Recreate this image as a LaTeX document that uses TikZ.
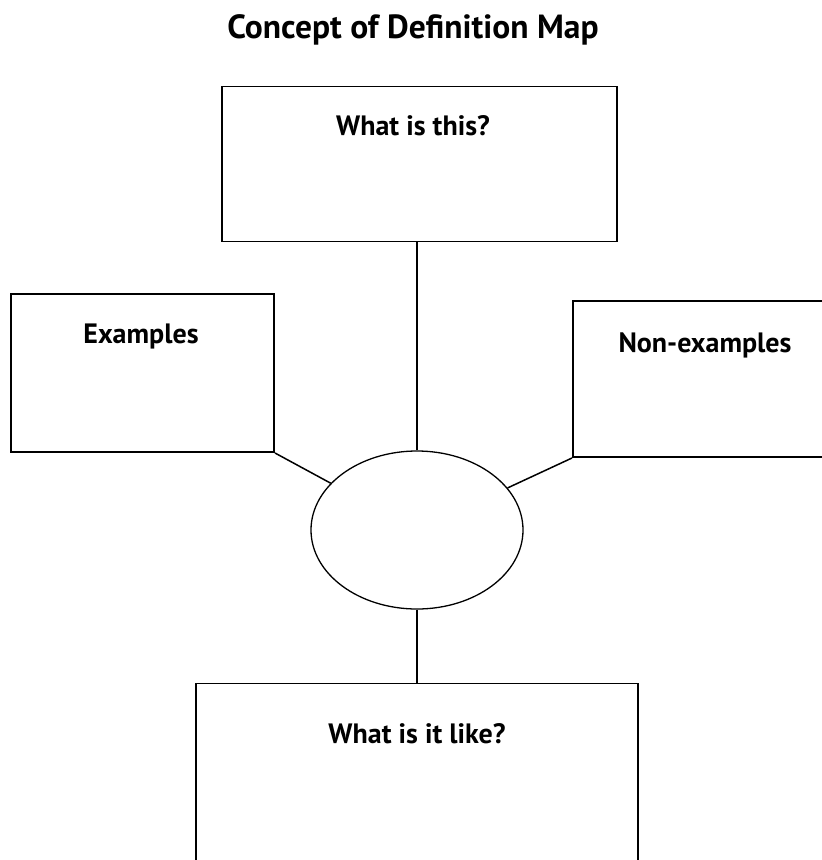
\documentclass[tikz,border=0pt]{standalone}
\usepackage{fontspec}
\setmainfont{PT Sans}
\usetikzlibrary{positioning, shapes.geometric}

\begin{document}
\begin{tikzpicture}[
            x=1pt, y=-1pt,
            box/.style={
                rectangle,
                draw=black,
                line width=1.6pt
            },
            bubble/.style={
                ellipse,
                draw=black,
                line width=1.3pt,
                minimum width=212pt,
                minimum height=158pt
            },
            caption/.style={anchor=base, inner sep=0pt, font=\bfseries\fontsize{28}{32}\selectfont},
            heading/.style={anchor=base, inner sep=0pt, font=\bfseries\fontsize{33.5}{38}\selectfont},
            link/.style={-, line width=1.5pt}
        ]
        \useasboundingbox (0,0) rectangle (822,860);
        \clip (0,0) rectangle (822,860);

        % Title
        \node[heading] (Title) at (413,38) {Concept of Definition Map};

        % Nodes
        \node[bubble] (Concept) at (417,530) {};
        \node[box, minimum width=395pt, minimum height=155pt, above=208pt of Concept, xshift=2.5pt] (What) {};
        \node[box, minimum width=263pt, minimum height=158pt, anchor=south east] (Examples) at (275,453) {};
        \node[box, minimum width=330pt, minimum height=156pt, anchor=south west] (NonExamples) at (572,458) {};
        \node[box, minimum width=442pt, minimum height=220pt, below=73pt of Concept] (Like) {};

        % Labels
        \node[caption] (WhatText) at (413,135) {What is this?};
        \node[caption] (ExamplesText) at (141,343) {Examples};
        \node[caption] (NonExamplesText) at (705,352) {Non-examples};
        \node[caption] (LikeText) at (417,743) {What is it like?};

        % Lines
        \draw[link] (Concept.north) -- (Concept.north |- What.south);
        \draw[link] (Examples.south east) -- (Concept);
        \draw[link] (NonExamples.south west) -- (Concept);
        \draw[link] (Concept.south) -- (Like.north);

        \end{tikzpicture}
\end{document}
